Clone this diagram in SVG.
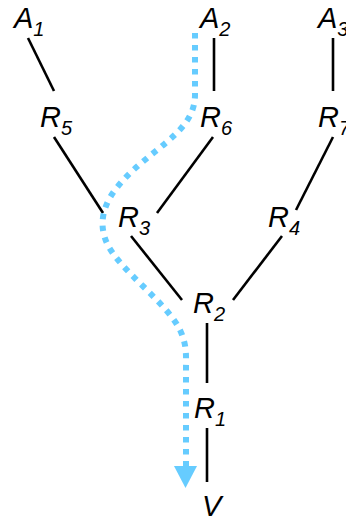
<svg xmlns="http://www.w3.org/2000/svg" width="346" height="521" viewBox="0 0 346 521">
<style>
.n{font-family:"Liberation Sans",Arial,sans-serif;font-style:italic;font-size:29px;fill:#000}
.s{font-size:20px}
.e{stroke:#000;stroke-width:2.6;fill:none}
.p{stroke:#66ccff;stroke-width:6;stroke-dasharray:5.5 6.5;fill:none}
</style>
<g id="connectors">
<line class="e" x1="28" y1="38" x2="54" y2="91"/>
<line class="e" x1="214" y1="38" x2="214" y2="91"/>
<line class="e" x1="333" y1="38" x2="333" y2="91"/>
<line class="e" x1="54" y1="137" x2="103" y2="213"/>
<line class="e" x1="213" y1="137" x2="157" y2="213"/>
<line class="e" x1="333" y1="137" x2="296" y2="210"/>
<line class="e" x1="131" y1="236" x2="182" y2="300"/>
<line class="e" x1="282" y1="236" x2="233" y2="300"/>
<line class="e" x1="207" y1="323" x2="207" y2="383"/>
<line class="e" x1="207" y1="428" x2="207" y2="482"/>
<path class="p" d="M195,33 V95 C195,135 145,150 115,190 C100,210 98,232 112,252 C130,278 168,305 180,330 C187,345 186,355 186,368 V466"/>
<polygon points="174,466 197,466 185.5,488" fill="#66ccff"/>
</g>
<g id="A1"><text class="n" x="14" y="28">A<tspan class="s" dy="8">1</tspan></text></g>
<g id="A2"><text class="n" x="200" y="28">A<tspan class="s" dy="8">2</tspan></text></g>
<g id="A3"><text class="n" x="318" y="28">A<tspan class="s" dy="8">3</tspan></text></g>
<g id="R5"><text class="n" x="40" y="127">R<tspan class="s" dy="8">5</tspan></text></g>
<g id="R6"><text class="n" x="200" y="127">R<tspan class="s" dy="8">6</tspan></text></g>
<g id="R7"><text class="n" x="318" y="127">R<tspan class="s" dy="8">7</tspan></text></g>
<g id="R3"><text class="n" x="118" y="227">R<tspan class="s" dy="8">3</tspan></text></g>
<g id="R4"><text class="n" x="268" y="227">R<tspan class="s" dy="8">4</tspan></text></g>
<g id="R2"><text class="n" x="193" y="313">R<tspan class="s" dy="8">2</tspan></text></g>
<g id="R1"><text class="n" x="194" y="418">R<tspan class="s" dy="8">1</tspan></text></g>
<g id="V"><text class="n" x="202" y="516">V</text></g>
</svg>
